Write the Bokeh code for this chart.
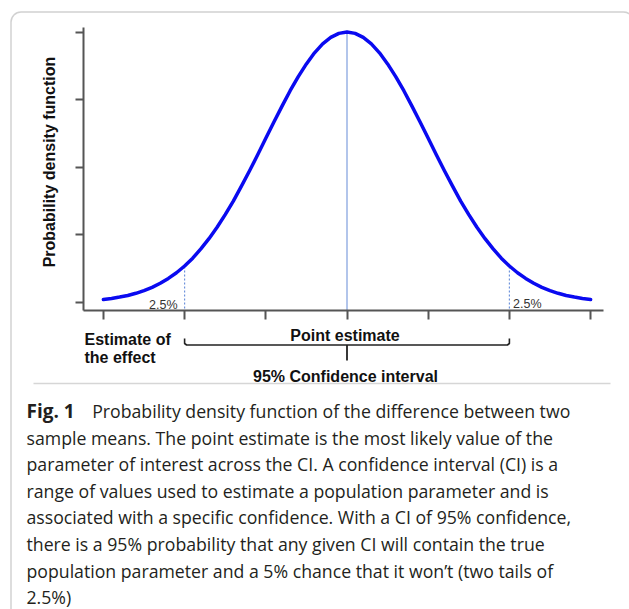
import math
from bokeh.plotting import figure
from bokeh.models import Range1d, LinearAxis, FixedTicker, BoxAnnotation
from bokeh.core.properties import value
from bokeh.embed import file_html
from bokeh.resources import INLINE

# ---------------- data ----------------
X_VALUES = [-3.0, -2.9, -2.8, -2.7, -2.6, -2.5, -2.4, -2.3, -2.2, -2.1,
            -2.0, -1.9, -1.8, -1.7, -1.6, -1.5, -1.4, -1.3, -1.2, -1.1,
            -1.0, -0.9, -0.8, -0.7, -0.6, -0.5, -0.4, -0.3, -0.2, -0.1,
            0.0, 0.1, 0.2, 0.3, 0.4, 0.5, 0.6, 0.7, 0.8, 0.9,
            1.0, 1.1, 1.2, 1.3, 1.4, 1.5, 1.6, 1.7, 1.8, 1.9,
            2.0, 2.1, 2.2, 2.3, 2.4, 2.5, 2.6, 2.7, 2.8, 2.9, 3.0]
DENSITY = [0.011, 0.015, 0.020, 0.026, 0.034, 0.044, 0.056, 0.071, 0.089, 0.110,
           0.135, 0.164, 0.198, 0.236, 0.278, 0.325, 0.375, 0.430, 0.487, 0.546,
           0.607, 0.667, 0.726, 0.783, 0.835, 0.882, 0.923, 0.956, 0.980, 0.995,
           1.000, 0.995, 0.980, 0.956, 0.923, 0.882, 0.835, 0.783, 0.726, 0.667,
           0.607, 0.546, 0.487, 0.430, 0.375, 0.325, 0.278, 0.236, 0.198, 0.164,
           0.135, 0.110, 0.089, 0.071, 0.056, 0.044, 0.034, 0.026, 0.020, 0.015, 0.011]
X_TICKS = [-3, -2, -1, 0, 1, 2, 3]
Y_TICKS = [0.0, 0.25, 0.5, 0.75, 1.0]
POINT_ESTIMATE = 0.0
CI_LOWER = -2.0
CI_UPPER = 2.0
TAIL_DENSITY = 0.135
PEAK_DENSITY = 1.0
TAIL_LABEL = "2.5%"
Y_LABEL = "Probability density function"
ESTIMATE_LABEL = ["Estimate of", "the effect"]
POINT_LABEL = "Point estimate"
CI_LABEL = "95% Confidence interval"
CAPTION_BOLD = "Fig. 1"
CAPTION_LINES = [
    "Probability density function of the difference between two",
    "sample means. The point estimate is the most likely value of the",
    "parameter of interest across the CI. A confidence interval (CI) is a",
    "range of values used to estimate a population parameter and is",
    "associated with a specific confidence. With a CI of 95% confidence,",
    "there is a 95% probability that any given CI will contain the true",
    "population parameter and a 5% chance that it won\u2019t (two tails of",
    "2.5%)",
]

# ---------------- layout helpers (page pixels -> data) ----------------
W, H = 629, 609
OFF = 0  # Bokeh's page template has no body margin
X0_PAGE, X_SCALE = 346.5, 81.2
Y0_PAGE, Y_SCALE = 302.0, 270.5


def dx(page_x):
    return (page_x - X0_PAGE) / X_SCALE


def dy(page_y):
    return (Y0_PAGE - page_y) / Y_SCALE


p = figure(width=W, height=H, output_backend="svg", toolbar_location=None,
           x_range=Range1d(dx(OFF), dx(OFF + W)), y_range=Range1d(dy(OFF + H), dy(OFF)),
           x_axis_location=None, y_axis_location=None, min_border=0, title=None)
p.outline_line_color = None
p.grid.grid_line_color = None
p.background_fill_color = "white"
p.border_fill_color = "white"

AXIS_COLOR = "#555555"
yaxis = LinearAxis(fixed_location=dx(83), bounds=(dy(310), dy(26.5)),
                   ticker=FixedTicker(ticks=Y_TICKS),
                   major_label_overrides={t: "" for t in Y_TICKS},
                   major_tick_out=8, major_tick_in=0, minor_tick_out=0, minor_tick_in=0,
                   axis_line_color=AXIS_COLOR, axis_line_width=2,
                   major_tick_line_color=AXIS_COLOR, major_tick_line_width=2)
p.add_layout(yaxis, "left")
xaxis = LinearAxis(fixed_location=dy(310), bounds=(dx(83), dx(603)),
                   ticker=FixedTicker(ticks=X_TICKS),
                   major_label_overrides={t: "" for t in X_TICKS},
                   major_tick_out=9, major_tick_in=0, minor_tick_out=0, minor_tick_in=0,
                   axis_line_color=AXIS_COLOR, axis_line_width=2,
                   major_tick_line_color=AXIS_COLOR, major_tick_line_width=2)
p.add_layout(xaxis, "below")

# point estimate line and tail markers
p.segment(x0=[POINT_ESTIMATE], y0=[dy(310)], x1=[POINT_ESTIMATE], y1=[PEAK_DENSITY],
          line_color="#9fb7e6", line_width=1.6)
p.segment(x0=[CI_LOWER, CI_UPPER], y0=[dy(308), dy(308)], x1=[CI_LOWER, CI_UPPER],
          y1=[TAIL_DENSITY, TAIL_DENSITY], line_color="#6f93dc", line_width=1.2,
          line_dash="2 2")

# the density curve
p.line(X_VALUES, DENSITY, line_color="#0a0af0", line_width=3.5, line_join="round",
       line_cap="round")

# bracket for the confidence interval
BR_TOP, BR_Y, STEM_Y = dy(338), dy(344.5), dy(360)
c = 2.0 / X_SCALE
p.line([CI_LOWER, CI_LOWER, CI_LOWER + c, CI_UPPER - c, CI_UPPER, CI_UPPER],
       [BR_TOP, BR_Y + 1.5 / Y_SCALE, BR_Y, BR_Y, BR_Y + 1.5 / Y_SCALE, BR_TOP],
       line_color="#222222", line_width=1.6, line_join="round")
p.segment(x0=[POINT_ESTIMATE], y0=[BR_Y], x1=[POINT_ESTIMATE], y1=[STEM_Y],
          line_color="#222222", line_width=1.8)

CHART_FONT = value("Liberation Sans")
# y label
p.text(x=[dx(49)], y=[dy(161.5)], text=[Y_LABEL], angle=math.pi / 2,
       text_font=CHART_FONT, text_font_style="bold", text_font_size="16px",
       text_align="center", text_baseline="alphabetic", text_color="#111111")
# tail labels
p.text(x=[dx(177), dx(512.5)], y=[dy(304.5), dy(303.5)], text=[TAIL_LABEL, TAIL_LABEL],
       text_font=CHART_FONT, text_font_size="12.5px", text_align=["right", "left"],
       text_baseline="alphabetic", text_color="#333333")
# bottom labels
p.text(x=[dx(84), dx(84)], y=[dy(339.3), dy(357.3)], text=ESTIMATE_LABEL,
       text_font=CHART_FONT, text_font_style="bold", text_font_size="16px",
       text_align="left", text_baseline="alphabetic", text_color="#111111")
p.text(x=[POINT_ESTIMATE - 2 / X_SCALE], y=[dy(335)], text=[POINT_LABEL],
       text_font=CHART_FONT, text_font_style="bold", text_font_size="16px",
       text_align="center", text_baseline="alphabetic", text_color="#111111")
p.text(x=[POINT_ESTIMATE - 1.5 / X_SCALE], y=[dy(375.7)], text=[CI_LABEL],
       text_font=CHART_FONT, text_font_style="bold", text_font_size="16px",
       text_align="center", text_baseline="alphabetic", text_color="#111111")

# separator line
p.segment(x0=[dx(33)], y0=[dy(383)], x1=[dx(610)], y1=[dy(383)],
          line_color="#d6d6d6", line_width=1.6)

# caption
CAP_FONT = value("Open Sans")
CAP_SIZE = "17.7px"
base0, step = 410.5, 26.6
p.text(x=[dx(26)], y=[dy(base0)], text=[CAPTION_BOLD], text_font=CAP_FONT,
       text_font_style="bold", text_font_size="19px", text_align="left",
       text_baseline="alphabetic", text_color="#231f20")
cap_x = [dx(91.7)] + [dx(26)] * (len(CAPTION_LINES) - 1)
cap_y = [dy(base0 + step * i) for i in range(len(CAPTION_LINES))]
p.text(x=cap_x, y=cap_y, text=CAPTION_LINES, text_font=CAP_FONT,
       text_font_size=CAP_SIZE, text_align="left", text_baseline="alphabetic",
       text_color="#231f20")

# rounded frame around the figure
p.add_layout(BoxAnnotation(left=dx(10.5), right=dx(633), top=dy(11.5), bottom=dy(650),
                           fill_alpha=0, fill_color=None, line_color="#666666",
                           line_width=1.5, border_radius=10))

open("out.html", "w").write(file_html(p, INLINE))
